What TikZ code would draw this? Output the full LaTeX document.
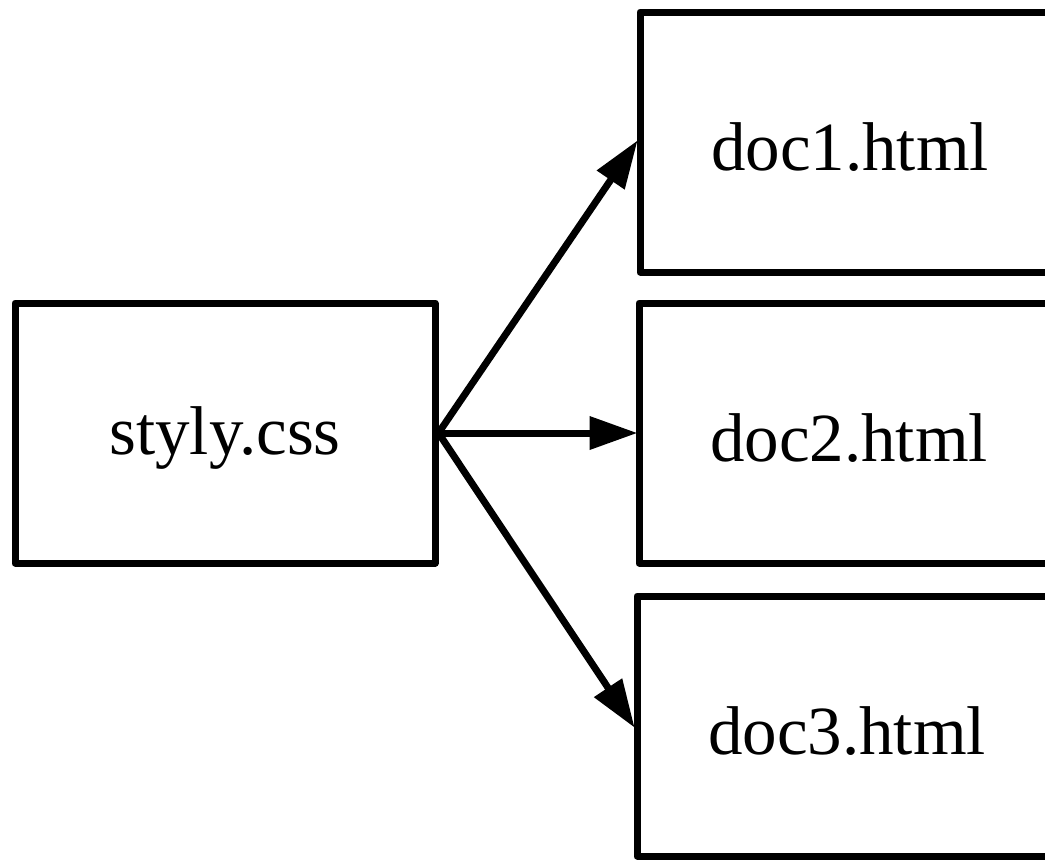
\documentclass[tikz,border=0pt]{standalone}
\usepackage{fontspec}
\setmainfont{Liberation Serif}
\usetikzlibrary{arrows.meta}
\newcommand{\lowtext}[1]{\raisebox{-2.5pt}[\height][\depth]{#1}}
\begin{document}
\begin{tikzpicture}[x=0.5pt,y=-0.5pt,
  filebox/.style={draw, line width=3.5pt, line join=round, rectangle, inner sep=0pt,
    minimum width=210pt, minimum height=130pt, font=\fontsize{34.5}{40}\selectfont},
  link/.style={line width=3.5pt, -{Triangle[length=24pt,width=16pt]}, shorten >=-1pt}]
\useasboundingbox (0,0) rectangle (1045,859);
\clip (0,0) rectangle (1045,859);
\node[filebox] (css) at (225,433) {\lowtext{styly.css}};
\node[filebox] (d1) at (850,142) {\lowtext{doc1.html}};
\node[filebox] (d2) at (849,433) {\lowtext{doc2.html}};
\node[filebox] (d3) at (847,726) {\lowtext{doc3.html}};
\draw[link] (css.east) -- (d1.west);
\draw[link] (css.east) -- (d2.west);
\draw[link] (css.east) -- (d3.west);
\end{tikzpicture}
\end{document}
